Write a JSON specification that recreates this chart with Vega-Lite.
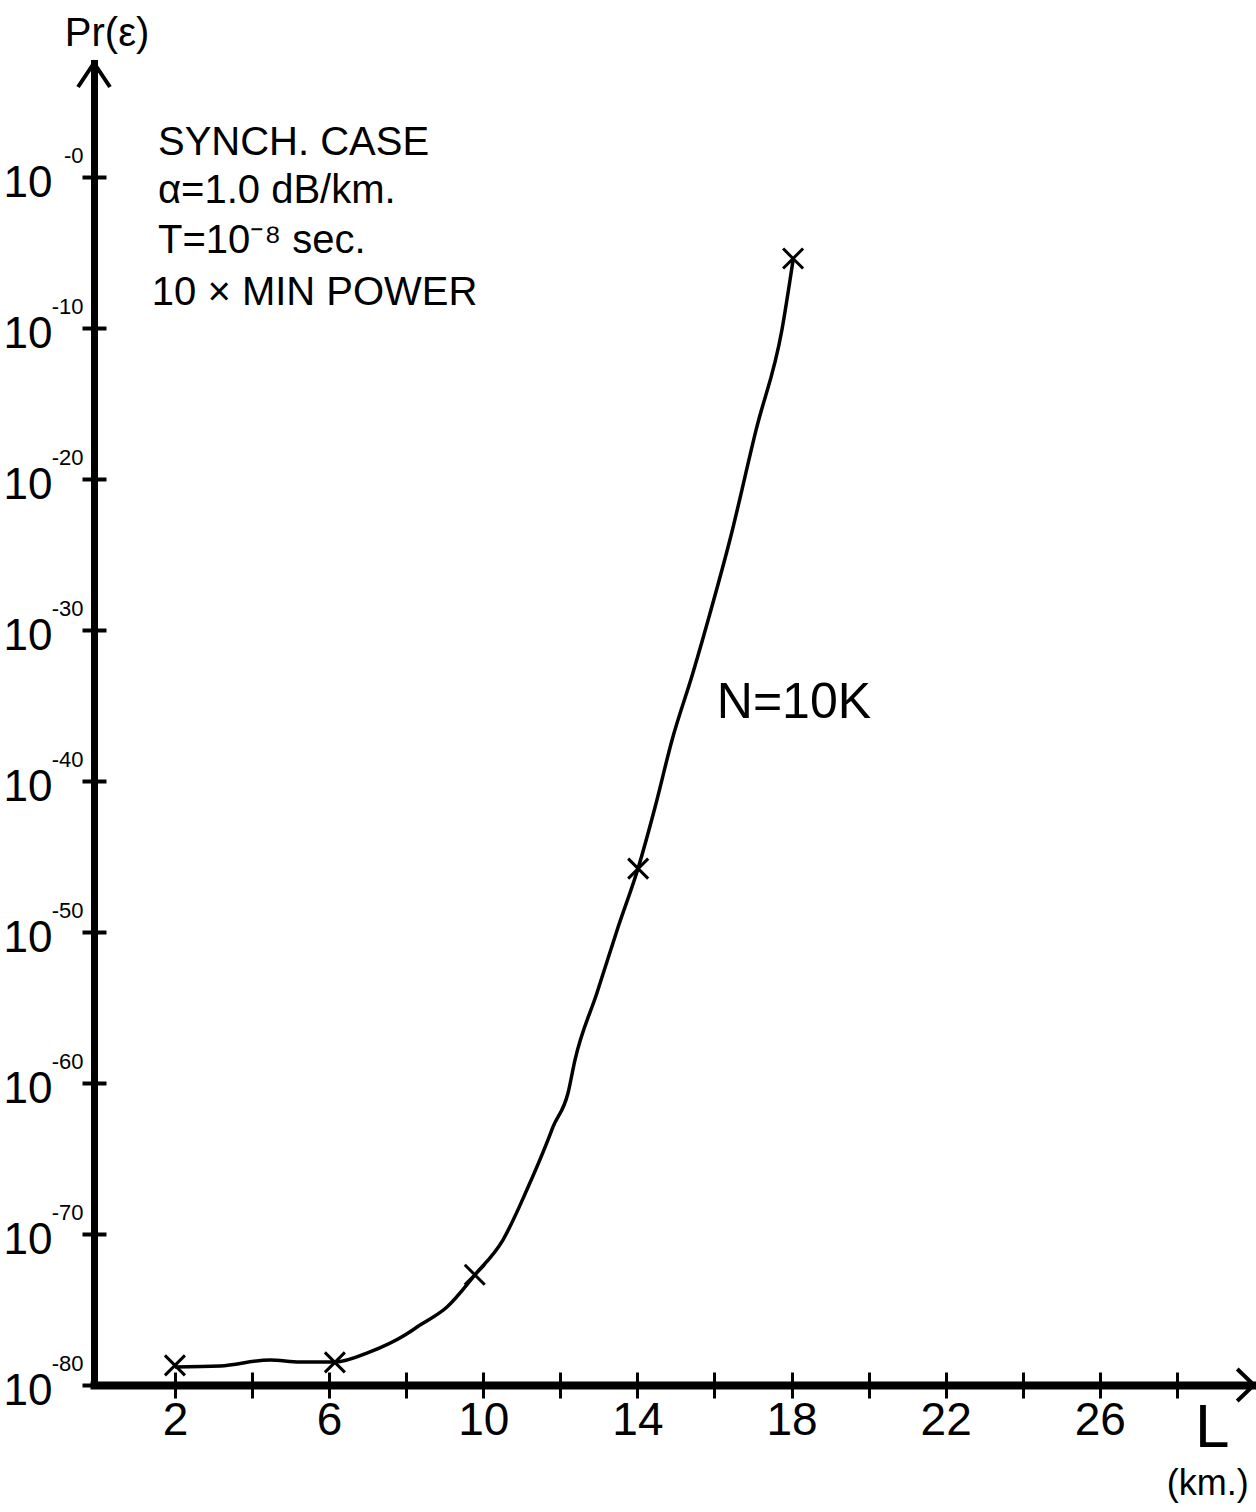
{
  "$schema": "https://vega.github.io/schema/vega-lite/v6.json",
  "width": 1160,
  "height": 1322,
  "autosize": {"type": "none"},
  "padding": {"left": 94, "top": 63, "right": 2, "bottom": 127},
  "background": "white",
  "config": {
    "view": {"stroke": null},
    "font": "Liberation Sans",
    "text": {"font": "Liberation Sans", "color": "black"},
    "axis": {"labelFont": "Liberation Sans", "labelColor": "black", "grid": false, "labelOverlap": false, "labelBound": false, "labelFlush": false}
  },
  "resolve": {"axis": {"x": "independent", "y": "independent"}},
  "layer": [
    {
      "data": {"values": [
        {"x": 2.00, "y": -78.81}, {"x": 3.17, "y": -78.74}, {"x": 4.47, "y": -78.34}, {"x": 5.24, "y": -78.48},
        {"x": 6.15, "y": -78.48}, {"x": 7.06, "y": -77.81}, {"x": 7.97, "y": -76.69}, {"x": 8.36, "y": -76.03},
        {"x": 9.06, "y": -74.83}, {"x": 9.78, "y": -72.72}, {"x": 10.51, "y": -70.40}, {"x": 11.13, "y": -67.09},
        {"x": 11.68, "y": -63.77}, {"x": 11.81, "y": -62.91}, {"x": 12.20, "y": -60.66}, {"x": 12.38, "y": -58.48},
        {"x": 12.95, "y": -54.04}, {"x": 13.50, "y": -49.67}, {"x": 14.02, "y": -45.76}, {"x": 14.46, "y": -41.72},
        {"x": 14.90, "y": -37.28}, {"x": 15.44, "y": -32.85}, {"x": 15.93, "y": -28.48}, {"x": 16.40, "y": -24.04},
        {"x": 17.08, "y": -16.75}, {"x": 17.75, "y": -10.13}, {"x": 18.04, "y": -5.50}
      ]},
      "mark": {"type": "line", "color": "black", "strokeWidth": 3.5, "interpolate": "monotone"},
      "encoding": {
        "x": {"field": "x", "type": "quantitative", "scale": {"domain": [-0.1, 30], "nice": false, "zero": false},
          "axis": {"orient": "bottom", "values": [2, 4, 6, 8, 10, 12, 14, 16, 18, 20, 22, 24, 26, 28],
            "labelExpr": "datum.value % 4 == 2 ? datum.label : ''", "title": null,
            "tickSize": 13, "tickWidth": 3, "tickColor": "black", "domainWidth": 8, "domainColor": "black", "domainCap": "square",
            "labelFontSize": 46, "labelPadding": 0, "labelBaseline": "top"}},
        "y": {"field": "y", "type": "quantitative", "scale": {"domain": [-80, 7.55], "nice": false, "zero": false},
          "axis": {"orient": "left", "values": [-80, -70, -60, -50, -40, -30, -20, -10, 0],
            "labelExpr": "'10'", "title": null,
            "tickSize": 12, "tickWidth": 4, "tickColor": "black", "domainWidth": 7, "domainColor": "black", "domainCap": "square",
            "labelFontSize": 44, "labelPadding": 30, "labelAlign": "right", "labelBaseline": "middle", "labelOffset": 6}}
      }
    },
    {
      "data": {"values": [
        {"x": 2.0, "y": -78.7}, {"x": 6.15, "y": -78.5}, {"x": 9.78, "y": -72.7}, {"x": 14.02, "y": -45.8}, {"x": 18.04, "y": -5.4}
      ]},
      "mark": {"type": "point", "shape": "M-1,-1L1,1M1,-1L-1,1", "size": 400, "filled": false, "stroke": "black", "strokeWidth": 3, "opacity": 1},
      "encoding": {
        "x": {"field": "x", "type": "quantitative", "scale": {"domain": [-0.1, 30], "nice": false, "zero": false},
          "axis": {"orient": "bottom", "values": [2, 4, 6, 8, 10, 12, 14, 16, 18, 20, 22, 24, 26, 28], "labels": false, "domain": false, "title": null,
            "offset": -13, "tickSize": 13, "tickWidth": 3, "tickColor": "black"}},
        "y": {"field": "y", "type": "quantitative", "scale": {"domain": [-80, 7.55], "nice": false, "zero": false},
          "axis": {"orient": "left", "values": [-80, -70, -60, -50, -40, -30, -20, -10, 0], "labels": false, "domain": false, "title": null,
            "offset": -12, "tickSize": 12, "tickWidth": 4, "tickColor": "black"}}
      }
    },
    {
      "data": {"values": [
        {"x": 1.56, "y": 1.46, "text": "SYNCH. CASE"},
        {"x": 1.56, "y": -1.72, "text": "α=1.0 dB/km."},
        {"x": 1.56, "y": -5.03, "text": "T=10⁻⁸ sec."},
        {"x": 1.40, "y": -8.48, "text": "10 × MIN POWER"}
      ]},
      "mark": {"type": "text", "align": "left", "baseline": "alphabetic", "fontSize": 40, "color": "black"},
      "encoding": {
        "x": {"field": "x", "type": "quantitative", "scale": {"domain": [-0.1, 30], "nice": false, "zero": false}, "axis": null},
        "y": {"field": "y", "type": "quantitative", "scale": {"domain": [-80, 7.55], "nice": false, "zero": false},
          "axis": {"orient": "left", "values": [-80, -70, -60, -50, -40, -30, -20, -10, 0],
            "labelExpr": "'-' + abs(datum.value)", "title": null, "ticks": false, "tickSize": 0, "domain": false,
            "labelFontSize": 22, "labelPadding": 11, "labelAlign": "right", "labelBaseline": "middle", "labelOffset": -22}},
        "text": {"field": "text", "type": "nominal"}
      }
    },
    {
      "data": {"values": [{"x": 16.06, "y": -35.8, "text": "N=10K"}]},
      "mark": {"type": "text", "align": "left", "baseline": "alphabetic", "fontSize": 50, "color": "black"},
      "encoding": {
        "x": {"field": "x", "type": "quantitative", "scale": {"domain": [-0.1, 30], "nice": false, "zero": false}, "axis": null},
        "y": {"field": "y", "type": "quantitative", "scale": {"domain": [-80, 7.55], "nice": false, "zero": false}, "axis": null},
        "text": {"field": "text", "type": "nominal"}
      }
    },
    {
      "data": {"values": [{"x": 0.24, "y": 8.7, "text": "Pr(ε)"}]},
      "mark": {"type": "text", "align": "center", "baseline": "alphabetic", "fontSize": 40, "color": "black"},
      "encoding": {
        "x": {"field": "x", "type": "quantitative", "scale": {"domain": [-0.1, 30], "nice": false, "zero": false}, "axis": null},
        "y": {"field": "y", "type": "quantitative", "scale": {"domain": [-80, 7.55], "nice": false, "zero": false}, "axis": null},
        "text": {"field": "text", "type": "nominal"}
      }
    },
    {
      "data": {"values": [{"x": 28.47, "y": -84.1, "text": "L"}]},
      "mark": {"type": "text", "align": "left", "baseline": "alphabetic", "fontSize": 62, "color": "black"},
      "encoding": {
        "x": {"field": "x", "type": "quantitative", "scale": {"domain": [-0.1, 30], "nice": false, "zero": false}, "axis": null},
        "y": {"field": "y", "type": "quantitative", "scale": {"domain": [-80, 7.55], "nice": false, "zero": false}, "axis": null},
        "text": {"field": "text", "type": "nominal"}
      }
    },
    {
      "data": {"values": [{"x": 28.8, "y": -87.3, "text": "(km.)"}]},
      "mark": {"type": "text", "align": "center", "baseline": "alphabetic", "fontSize": 36, "color": "black"},
      "encoding": {
        "x": {"field": "x", "type": "quantitative", "scale": {"domain": [-0.1, 30], "nice": false, "zero": false}, "axis": null},
        "y": {"field": "y", "type": "quantitative", "scale": {"domain": [-80, 7.55], "nice": false, "zero": false}, "axis": null},
        "text": {"field": "text", "type": "nominal"}
      }
    },
    {
      "data": {"values": [{"x": -0.1, "y": 7.55}]},
      "mark": {"type": "point", "shape": "M-1,1.5L0,0L1,1.5", "size": 1024, "filled": false, "stroke": "black", "strokeWidth": 4, "opacity": 1},
      "encoding": {
        "x": {"field": "x", "type": "quantitative", "scale": {"domain": [-0.1, 30], "nice": false, "zero": false}, "axis": null},
        "y": {"field": "y", "type": "quantitative", "scale": {"domain": [-80, 7.55], "nice": false, "zero": false}, "axis": null}
      }
    },
    {
      "data": {"values": [{"x": 30, "y": -80}]},
      "mark": {"type": "point", "shape": "M-1.05,-1L0,0L-1.05,1", "size": 1024, "filled": false, "stroke": "black", "strokeWidth": 4, "opacity": 1},
      "encoding": {
        "x": {"field": "x", "type": "quantitative", "scale": {"domain": [-0.1, 30], "nice": false, "zero": false}, "axis": null},
        "y": {"field": "y", "type": "quantitative", "scale": {"domain": [-80, 7.55], "nice": false, "zero": false}, "axis": null}
      }
    }
  ]
}
